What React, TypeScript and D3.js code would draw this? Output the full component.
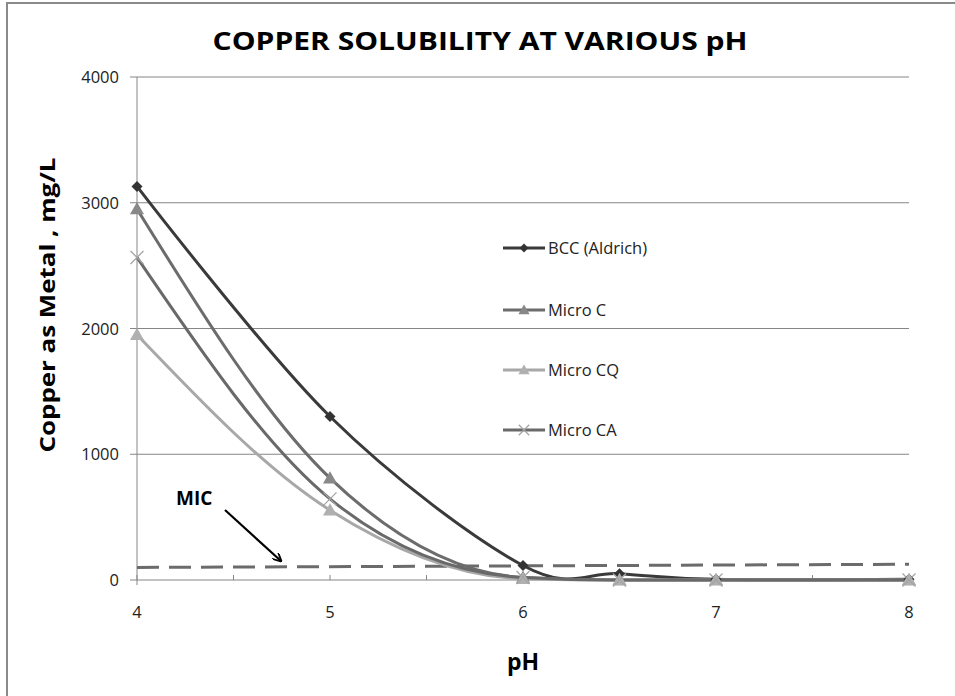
import React from "react";
import * as d3 from "d3";

const phValues = [4, 5, 6, 6.5, 7, 8];
const bccAldrich = [3130, 1300, 115, 50, 5, 5];
const microC = [2950, 810, 20, 0, 0, 0];
const microCQ = [1950, 555, 10, 0, 0, 0];
const microCA = [2565, 645, 20, 0, 0, 0];
const micPh = [4, 8];
const micValues = [100, 125];
const yTicks = [0, 1000, 2000, 3000, 4000];
const xTicks = [4, 5, 6, 7, 8];
const xMinorTicks = [4.5, 5.5, 6.5, 7.5];
const seriesNames = ["BCC (Aldrich)", "Micro C", "Micro CQ", "Micro CA"];

const W = 955;
const H = 696;
const font = "'Open Sans', 'Noto Sans', sans-serif";

type Series = {
  name: string;
  values: number[];
  line: string;
  marker: string;
  shape: "diamond" | "triangle" | "x";
  smooth: any;
};

const series: Series[] = [
  { name: seriesNames[0], values: bccAldrich, line: "#3a3a3a", marker: "#333333", shape: "diamond", smooth: d3.curveCatmullRom.alpha(0) },
  { name: seriesNames[1], values: microC, line: "#6c6c6c", marker: "#888888", shape: "triangle", smooth: d3.curveMonotoneX },
  { name: seriesNames[2], values: microCQ, line: "#a8a8a8", marker: "#b0b0b0", shape: "triangle", smooth: d3.curveMonotoneX },
  { name: seriesNames[3], values: microCA, line: "#696969", marker: "#a4a4a4", shape: "x", smooth: d3.curveMonotoneX },
];

function Marker({ shape, x, y, color, s = 1 }: { shape: string; x: number; y: number; color: string; s?: number }) {
  if (shape === "diamond") {
    const r = 5.5 * s;
    return <path d={`M${x},${y - r}L${x + r},${y}L${x},${y + r}L${x - r},${y}Z`} fill={color} />;
  }
  if (shape === "triangle") {
    const r = 7 * s;
    return <path d={`M${x},${y - r}L${x + r},${y + r * 0.75}L${x - r},${y + r * 0.75}Z`} fill={color} />;
  }
  const r = 6.5 * s;
  return (
    <path
      d={`M${x - r},${y - r}L${x + r},${y + r}M${x - r},${y + r}L${x + r},${y - r}`}
      stroke={color}
      strokeWidth={1.3}
      fill="none"
    />
  );
}

export default function App() {
  const x = d3.scaleLinear().domain([4, 8]).range([137, 909]);
  const y = d3.scaleLinear().domain([0, 4000]).range([580, 77]);

  const micLine = d3
    .line<[number, number]>()
    .x((d) => x(d[0]))
    .y((d) => y(d[1]));

  const legendY = [248, 310, 370, 430];

  return (
    <div style={{ position: "absolute", left: 0, top: 0, width: W, height: H, overflow: "hidden", background: "#fff" }}>
      <svg width={W} height={H} style={{ display: "block" }}>
        <rect x={0} y={0} width={W} height={H} fill="#ffffff" />
        {/* chart frame */}
        <rect x={7} y={3} width={1000} height={800} fill="none" stroke="#8a8a8a" strokeWidth={2} />

        {/* title */}
        <text
          x={480}
          y={50}
          textAnchor="middle"
          fontFamily={font}
          fontWeight="bold"
          fontSize={25}
          fill="#000"
          textLength={535}
          lengthAdjust="spacingAndGlyphs"
        >
          COPPER SOLUBILITY AT VARIOUS pH
        </text>

        {/* gridlines */}
        {yTicks.map((t) => (
          <line key={"g" + t} x1={130} x2={909} y1={y(t)} y2={y(t)} stroke="#868686" strokeWidth={1} />
        ))}
        {/* y axis */}
        <line x1={137} x2={137} y1={y(4000)} y2={585} stroke="#868686" strokeWidth={1} />
        {yTicks.map((t) => (
          <text key={"yl" + t} x={119} y={y(t) + 6} textAnchor="end" fontFamily={font} fontSize={16.5} fill="#222">
            {t}
          </text>
        ))}
        {/* x ticks */}
        {xTicks.concat(xMinorTicks).map((t) => (
          <line key={"xt" + t} x1={x(t)} x2={x(t)} y1={575} y2={580} stroke="#868686" strokeWidth={1} />
        ))}
        {xTicks.map((t) => (
          <text key={"xl" + t} x={x(t)} y={618} textAnchor="middle" fontFamily={font} fontSize={16.5} fill="#222">
            {t}
          </text>
        ))}

        {/* axis titles */}
        <text
          transform={`translate(55,305) rotate(-90)`}
          textAnchor="middle"
          fontFamily={font}
          fontWeight="bold"
          fontSize={22}
          fill="#000"
          textLength={295}
          lengthAdjust="spacingAndGlyphs"
        >
          Copper as Metal , mg/L
        </text>
        <text x={523} y={670} textAnchor="middle" fontFamily={font} fontWeight="bold" fontSize={23} fill="#000">
          pH
        </text>

        {/* MIC line */}
        <path
          d={micLine(micPh.map((p, i) => [p, micValues[i]] as [number, number])) || ""}
          stroke="#6b6b6b"
          strokeWidth={3}
          strokeDasharray="22 10"
          fill="none"
        />
        <text x={176} y={505} fontFamily={font} fontWeight="bold" fontSize={19} fill="#000">
          MIC
        </text>
        <defs>
          <marker id="arrowHead" viewBox="0 0 10 10" refX={9} refY={5} markerWidth={9} markerHeight={9} orient="auto" markerUnits="userSpaceOnUse">
            <path d="M0,0L10,5L0,10" fill="none" stroke="#000" strokeWidth={2} />
          </marker>
        </defs>
        <line x1={225} y1={510} x2={281} y2={561} stroke="#000" strokeWidth={2.2} markerEnd="url(#arrowHead)" />

        {/* series */}
        {series.map((s) => {
          const ln = d3
            .line<[number, number]>()
            .x((d) => x(d[0]))
            .y((d) => y(d[1]))
            .curve(s.smooth);
          return (
            <path
              key={"l" + s.name}
              d={ln(phValues.map((p, i) => [p, s.values[i]] as [number, number])) || ""}
              stroke={s.line}
              strokeWidth={3}
              fill="none"
              strokeLinejoin="round"
            />
          );
        })}
        {series.map((s) => (
          <g key={"m" + s.name}>
            {phValues.map((p, i) => (
              <Marker key={i} shape={s.shape} x={x(p)} y={y(s.values[i])} color={s.marker} />
            ))}
          </g>
        ))}

        {/* legend */}
        {series.map((s, i) => (
          <g key={"lg" + s.name}>
            <line x1={503} x2={545} y1={legendY[i]} y2={legendY[i]} stroke={s.line} strokeWidth={3} />
            <Marker shape={s.shape} x={524} y={legendY[i]} color={s.marker} s={0.8} />
            <text x={548} y={legendY[i] + 6} fontFamily={font} fontSize={16.5} fill="#222">
              {s.name}
            </text>
          </g>
        ))}
      </svg>
    </div>
  );
}
